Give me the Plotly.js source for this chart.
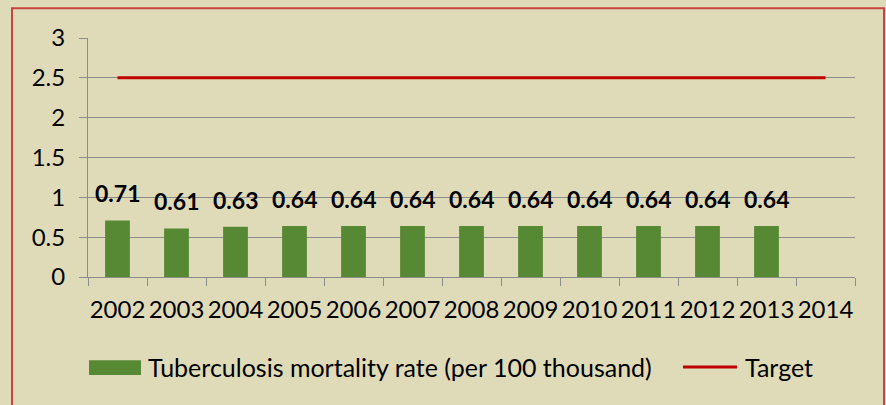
<!DOCTYPE html>
<html>
<head>
<meta charset="utf-8">
<script src="https://cdn.plot.ly/plotly-3.0.1.min.js"></script>
<style>html,body{margin:0;padding:0;background:#dfdbb8;}#chart{width:886px;height:405px;}</style>
</head>
<body>
<div id="chart"></div>
<script>
const years = ['2002','2003','2004','2005','2006','2007','2008','2009','2010','2011','2012','2013','2014'];
const mortality = [0.71,0.61,0.63,0.64,0.64,0.64,0.64,0.64,0.64,0.64,0.64,0.64,null];
const target = [2.5,2.5,2.5,2.5,2.5,2.5,2.5,2.5,2.5,2.5,2.5,2.5,2.5];
const seriesNames = ['Tuberculosis mortality rate (per 100 thousand)','Target'];
const yTicks = [0,0.5,1,1.5,2,2.5,3];

const FONT = 'Lato, "Open Sans", sans-serif';
const BAR_COLOR = '#578834';
const LINE_COLOR = '#c00000';

const traces = [
  {
    type:'bar', x:years, y:mortality, name:seriesNames[0],
    marker:{color:BAR_COLOR, line:{width:0}},
    hoverinfo:'x+y'
  },
  {
    type:'scatter', mode:'lines', x:years, y:target, name:seriesNames[1],
    line:{color:LINE_COLOR, width:3}
  }
];

const annotations = [];
years.forEach((yr,i)=>{
  if (mortality[i]==null) return;
  annotations.push({
    x: i, y: mortality[i], xref:'x', yref:'y',
    text: mortality[i].toFixed(2), showarrow:false,
    yanchor:'bottom', yshift:11,
    font:{family:FONT, size:23, color:'#000', weight:'bold'}
  });
});

// manual legend (paper coordinates derived from pixel layout)
const PX = px => (px-88)/767;
const PY = py => (277.5-py)/240;
annotations.push({xref:'paper', yref:'paper', x:PX(146), y:PY(368), xanchor:'left', yanchor:'middle',
  text:seriesNames[0], showarrow:false, font:{family:FONT, size:25, color:'#000'}});
annotations.push({xref:'paper', yref:'paper', x:PX(743), y:PY(368), xanchor:'left', yanchor:'middle',
  text:seriesNames[1], showarrow:false, font:{family:FONT, size:25, color:'#000'}});

const layout = {
  width:886, height:405,
  paper_bgcolor:'#dfdbb8', plot_bgcolor:'#dfdbb8',
  margin:{l:88, r:31, t:37.5, b:127.5, pad:0},
  font:{family:FONT, size:24, color:'#000'},
  bargap:0.58,
  showlegend:false,
  xaxis:{type:'category', categoryorder:'array', categoryarray:years, range:[-0.5, years.length-0.5],
         showline:true, linecolor:'#8c8c8c', linewidth:1,
         ticks:'outside', tickson:'boundaries', ticklen:8, tickcolor:'#8c8c8c',
         showgrid:false, ticklabelstandoff:11, fixedrange:true, tickangle:0,
         tickfont:{family:FONT, size:24, color:'#000'}},
  yaxis:{range:[0,3], tickvals:yTicks, ticktext:yTicks.map(String),
         showline:true, linecolor:'#8c8c8c', linewidth:1,
         ticks:'outside', ticklen:8, tickcolor:'#8c8c8c',
         showgrid:true, gridcolor:'#8c8c8c', gridwidth:1, zeroline:false,
         ticklabelstandoff:9, fixedrange:true,
         tickfont:{family:FONT, size:24, color:'#000'}},
  annotations: annotations,
  shapes:[
    {type:'rect', xref:'paper', yref:'paper',
     x0:PX(12), x1:PX(884), y0:PY(410), y1:PY(7.5),
     line:{color:'#c8453f', width:2}, fillcolor:'rgba(0,0,0,0)', layer:'below'},
    {type:'rect', xref:'paper', yref:'paper',
     x0:PX(89), x1:PX(141), y0:PY(376), y1:PY(361),
     line:{width:0}, fillcolor:BAR_COLOR},
    {type:'line', xref:'paper', yref:'paper',
     x0:PX(683), x1:PX(737), y0:PY(368), y1:PY(368),
     line:{color:LINE_COLOR, width:3}}
  ]
};

Plotly.newPlot('chart', traces, layout, {displayModeBar:false, staticPlot:true});
</script>
</body>
</html>
